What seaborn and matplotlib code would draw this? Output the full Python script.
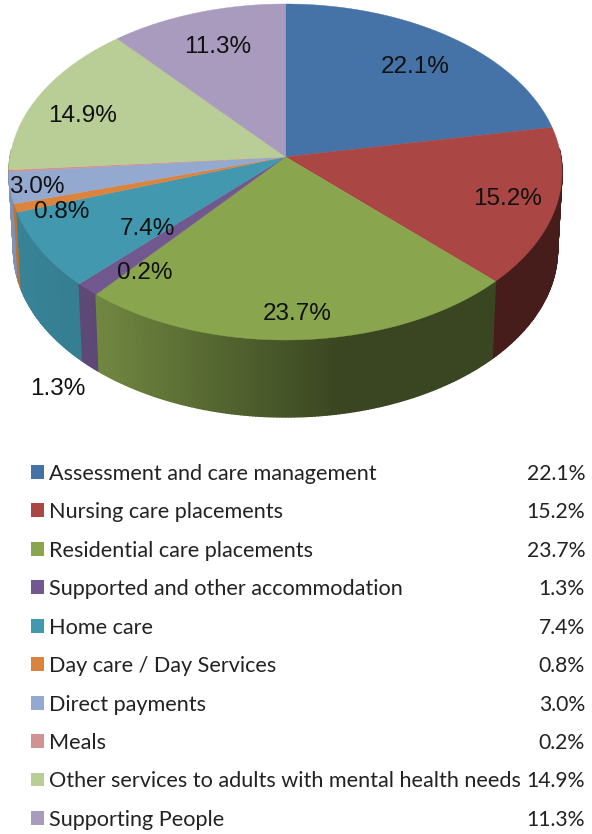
import matplotlib.pyplot as plt
import numpy as np
import pandas as pd
import seaborn as sns

categories = ['Assessment and care management', 'Nursing care placements',
              'Residential care placements', 'Supported and other accommodation',
              'Home care', 'Day care / Day Services', 'Direct payments', 'Meals',
              'Other services to adults with mental health needs', 'Supporting People']
values = [22.1, 15.2, 23.7, 1.3, 7.4, 0.8, 3.0, 0.2, 14.9, 11.3]
colors = ['#4572a7', '#aa4643', '#89a54e', '#71588f', '#4198af',
          '#db843d', '#93a9cf', '#d19392', '#b9cd96', '#a99bbd']

# where each percentage sits on the pie, in pixels
label_pos = [(415, 67), (508, 199), (297, 314), (58, 389), (147, 229),
             (62, 212), (37, 187), (145, 273), (83, 116), (218, 47)]

W, H = 592, 834
TILT = 0.09


def project(theta, cx, cy, rx, ry):
    '''
    Put a clockwise-from-top angle on the tilted disc, perspective included.
    '''
    u, v = np.sin(theta), np.cos(theta)
    d = 1 + TILT * v
    return (cx + rx * u * np.sqrt(1 - TILT ** 2) / d,
            cy - ry * (v + TILT) / d)


def side_shade(x):
    return np.interp(x, [0, 97, 340, W], [0.87, 0.82, 0.42, 0.42])


sns.set_theme(style='white')
fig = plt.figure(figsize=(W / 100, H / 100), dpi=100)
ax = fig.add_axes([0, 0, 1, 1])
ax.set_xlim(0, W)
ax.set_ylim(H, 0)
ax.axis('off')

edges = np.cumsum([0] + values) / sum(values) * 2 * np.pi
top = (285.5, 172, 276.5, 168)
bottom = (285.5, 250, 272, 167)
apex = (285.5, 172 - 168 * TILT)

# side wall, front half only, back to front
strips = []
for i, color in enumerate(colors):
    steps = max(2, int((edges[i + 1] - edges[i]) / 0.01))
    ts = np.linspace(edges[i], edges[i + 1], steps)
    for a, b in zip(ts[:-1], ts[1:]):
        depth = np.cos((a + b) / 2)
        if depth < 0.05:
            strips.append((depth, a, b, color))
strips.sort(key=lambda s: -s[0])
for _, a, b, color in strips:
    t = np.array([a, b])
    x0, y0 = project(t, *top)
    x1, y1 = project(t, *bottom)
    shade = side_shade(x0.mean())
    rgb = np.array(sns.color_palette([color])[0]) * shade
    ax.fill([x0[0], x0[1], x1[1], x1[0]], [y0[0], y0[1], y1[1], y1[0]],
            color=rgb, lw=1.0)

# top face
for i, color in enumerate(colors):
    ts = np.linspace(edges[i], edges[i + 1], 80)
    x, y = project(ts, *top)
    ax.fill(np.r_[apex[0], x], np.r_[apex[1], y], color=color, lw=0.3)

for v, (x, y) in zip(values, label_pos):
    ax.text(x, y, f'{v:.1f}%', ha='center', va='center', fontsize=17.5,
            family='Liberation Sans', color='#111111')

# legend table
df = pd.DataFrame({'category': categories, 'x': 37.5})
top_px, bottom_px = 453, H
row = 38.44
leg = fig.add_axes([0, 0, 1, (bottom_px - top_px) / H])
leg.patch.set_alpha(0)
sns.scatterplot(data=df, x='x', y='category', hue='category', palette=colors,
                marker='s', s=100, linewidth=0, legend=False, ax=leg)
leg.set_xlim(0, W)
leg.set_ylim((bottom_px - 472) / row, (top_px - 472) / row)
leg.axis('off')
for i, (name, v) in enumerate(zip(categories, values)):
    leg.text(49, i + 0.05, name, ha='left', va='center', fontsize=15.6,
             family='Lato', color='#222222')
    leg.text(585, i + 0.05, f'{v:.1f}%', ha='right', va='center', fontsize=15.2,
             family='Lato', color='#222222')

fig.savefig('out.png', dpi=100)
